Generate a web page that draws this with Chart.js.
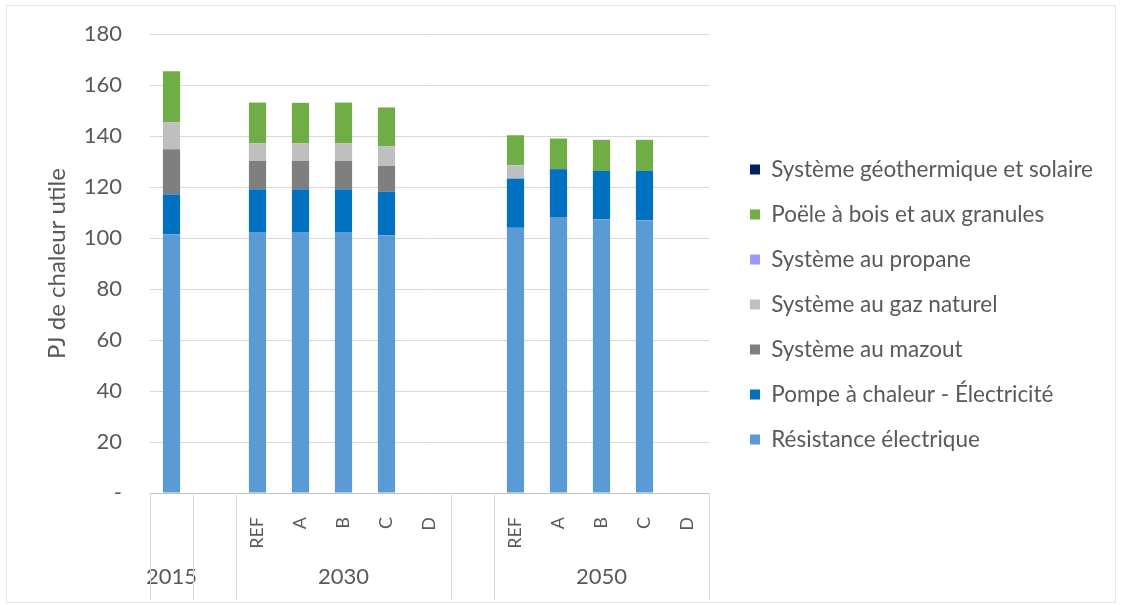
<!DOCTYPE html>
<html>
<head>
<meta charset="utf-8">
<script src="https://cdn.jsdelivr.net/npm/chart.js@4"></script>
<style>
  html, body { margin: 0; padding: 0; background: #fff; }
  #wrap { width: 1121px; height: 605px; position: relative; }
</style>
</head>
<body>
<div id="wrap"><canvas id="chart" width="1121" height="605"></canvas></div>
<script>
// Categories (inner level) and their groups (outer level)
const scenarios = ['', '', 'REF', 'A', 'B', 'C', 'D', '', 'REF', 'A', 'B', 'C', 'D'];
const yearLabels = ['2015', '', '', '', '2030', '', '', '', '', '', '2050', '', ''];
const groupBounds = [0, 1, 2, 7, 8, 13];

// Series values (PJ de chaleur utile), null = no bar
const resistance = [101.4, null, 102.1, 102.1, 102.1, 101.1, null, null, 104.0, 108.2, 107.3, 107.0, null];
const pompe = [15.7, null, 17.0, 17.0, 17.0, 17.1, null, null, 19.3, 18.8, 19.0, 19.3, null];
const mazout = [17.7, null, 11.1, 11.1, 11.1, 10.1, null, null, 0, 0, 0, 0, null];
const gaz = [10.6, null, 7.0, 7.0, 7.0, 7.6, null, null, 5.2, 0, 0, 0, null];
const propane = [0, null, 0, 0, 0, 0, null, null, 0, 0, 0, 0, null];
const bois = [20.0, null, 15.9, 15.8, 15.9, 15.3, null, null, 11.8, 12.0, 12.2, 12.2, null];
const geothermie = [0, null, 0, 0, 0, 0, null, null, 0, 0, 0, 0, null];

const txt = '#595959';
const fontFamily = 'Lato, "Open Sans", sans-serif';

// separators of the multi-level category axis + outer frame
const axisGroups = {
  id: 'axisGroups',
  afterDraw(chart) {
    const ctx = chart.ctx;
    const x = chart.scales.x;
    const area = chart.chartArea;
    const step = x.getPixelForValue(1) - x.getPixelForValue(0);
    ctx.save();
    ctx.strokeStyle = '#d9d9d9';
    ctx.lineWidth = 1;
    groupBounds.forEach(i => {
      const px = Math.round(x.getPixelForValue(0) - step / 2 + i * step) + 0.5;
      ctx.beginPath();
      ctx.moveTo(px, area.bottom);
      ctx.lineTo(px, 600);
      ctx.stroke();
    });
    ctx.strokeStyle = '#e6e6e6';
    ctx.strokeRect(6.5, 5.5, 1109, 597);
    ctx.restore();
  }
};

new Chart(document.getElementById('chart'), {
  type: 'bar',
  data: {
    labels: scenarios,
    datasets: [
      { label: 'Résistance électrique', data: resistance, backgroundColor: '#5B9BD5' },
      { label: 'Pompe à chaleur - Électricité', data: pompe, backgroundColor: '#0070C0' },
      { label: 'Système au mazout', data: mazout, backgroundColor: '#7F7F7F' },
      { label: 'Système au gaz naturel', data: gaz, backgroundColor: '#BFBFBF' },
      { label: 'Système au propane', data: propane, backgroundColor: '#9999FF' },
      { label: 'Poële à bois et aux granules', data: bois, backgroundColor: '#70AD47' },
      { label: 'Système géothermique et solaire', data: geothermie, backgroundColor: '#002060' }
    ]
  },
  options: {
    responsive: false,
    animation: false,
    datasets: { bar: { barPercentage: 0.4, categoryPercentage: 1.0 } },
    layout: { padding: { left: 16, right: 18, top: 11, bottom: 7 } },
    plugins: {
      tooltip: { enabled: false },
      legend: {
        position: 'right',
        reverse: true,
        maxWidth: 420,
        labels: {
          boxWidth: 10,
          boxHeight: 10,
          padding: 22.5,
          color: txt,
          font: { family: fontFamily, size: 22.5 }
        }
      }
    },
    scales: {
      x: {
        stacked: true,
        grid: { display: false },
        border: { display: false },
        ticks: {
          autoSkip: false,
          minRotation: 90,
          maxRotation: 90,
          padding: 16,
          color: txt,
          font: { family: fontFamily, size: 18 }
        },
        afterFit: s => { s.height = 60; }
      },
      x2: {
        type: 'category',
        position: 'bottom',
        labels: yearLabels,
        offset: true,
        grid: { display: false, drawTicks: false },
        border: { display: false },
        ticks: {
          autoSkip: false,
          maxRotation: 0,
          padding: 11,
          color: txt,
          font: { family: fontFamily, size: 22 }
        },
        afterFit: s => { s.height = 45; }
      },
      y: {
        stacked: true,
        min: 0,
        max: 180,
        ticks: {
          stepSize: 20,
          padding: 28,
          color: txt,
          font: { family: fontFamily, size: 22 },
          callback: v => (v === 0 ? '-' : v)
        },
        grid: {
          color: ctx => (ctx.tick && ctx.tick.value === 0 ? '#bfbfbf' : '#d9d9d9'),
          drawTicks: false
        },
        border: { display: false },
        title: {
          display: true,
          text: 'PJ de chaleur utile',
          color: txt,
          padding: { top: 27, bottom: 4 },
          font: { family: fontFamily, size: 24 }
        },
        afterFit: s => { s.width = 134; s.paddingTop = 34; s.paddingBottom = 0; }
      },
      yR: {
        position: 'right',
        display: true,
        grid: { display: false },
        border: { display: false },
        ticks: { display: false },
        afterFit: s => { s.width = 18.5; }
      }
    }
  },
  plugins: [axisGroups]
});
</script>
</body>
</html>
